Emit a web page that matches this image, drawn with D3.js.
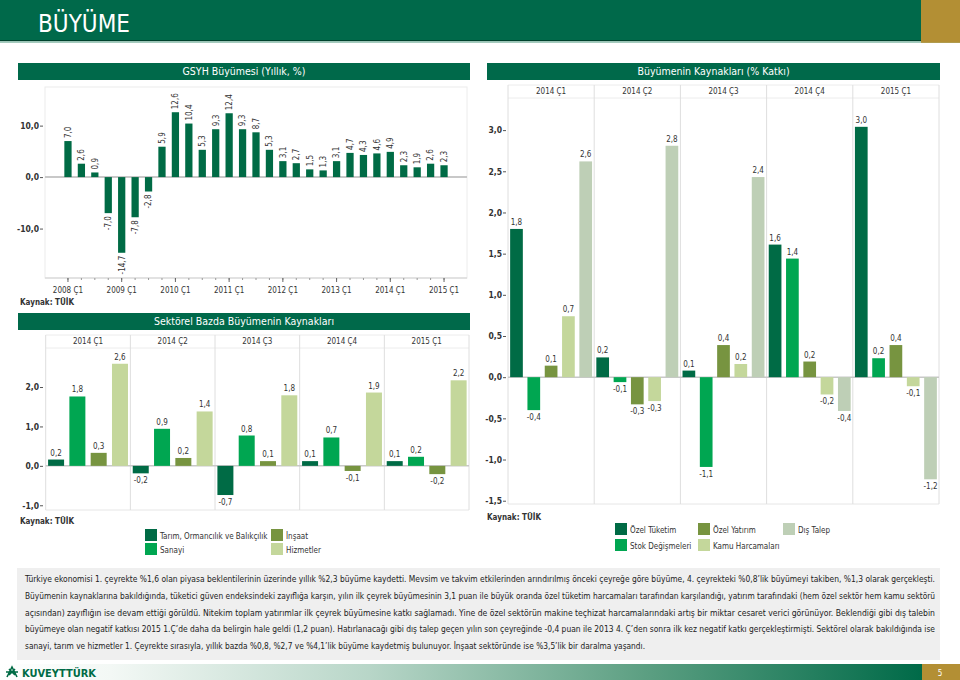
<!DOCTYPE html>
<html><head><meta charset="utf-8">
<script src="https://cdn.jsdelivr.net/npm/d3@7"></script>
<style>
body{margin:0;background:#fff;}
svg text{font-family:"DejaVu Sans Condensed","DejaVu Sans",sans-serif;}
</style></head><body>
<svg id="c" width="960" height="680"></svg>
<script>
// ---------------- DATA ----------------
const gsyhQuarters = [];
["2008","2009","2010","2011","2012","2013","2014","2015"].forEach(y=>{
  for(let q=1;q<=4;q++){ if(y==="2015" && q>1) break; gsyhQuarters.push(y+" Ç"+q); }
});
const gsyhValues = [7.0, 2.6, 0.9, -7.0, -14.7, -7.8, -2.8, 5.9, 12.6, 10.4, 5.3, 9.3, 12.4, 9.3, 8.7, 5.3, 3.1, 2.7, 1.5, 1.3, 3.1, 4.7, 4.3, 4.6, 4.9, 2.3, 1.9, 2.6, 2.3];
const gsyhTickLabels = ["2008 Ç1","2009 Ç1","2010 Ç1","2011 Ç1","2012 Ç1","2013 Ç1","2014 Ç1","2015 Ç1"];
const gsyhYTicks = [-10, 0, 10];

const periods = ["2014 Ç1","2014 Ç2","2014 Ç3","2014 Ç4","2015 Ç1"];
const sourceSeries = ["Özel Tüketim","Stok Değişmeleri","Özel Yatırım","Kamu Harcamaları","Dış Talep"];
const ozelTuketim     = [1.80, 0.24, 0.08, 1.61, 3.04];
const stokDegismeleri = [-0.40, -0.06, -1.09, 1.44, 0.23];
const ozelYatirim     = [0.14, -0.33, 0.39, 0.19, 0.39];
const kamuHarcamalari = [0.74, -0.29, 0.16, -0.21, -0.11];
const disTalep        = [2.62, 2.81, 2.43, -0.41, -1.24];
const sourceYTicks = [-1.5, -1.0, -0.5, 0, 0.5, 1.0, 1.5, 2.0, 2.5, 3.0];

const sectorSeries = ["Tarım, Ormancılık ve Balıkçılık","Sanayi","İnşaat","Hizmetler"];
const tarim     = [0.16, -0.19, -0.74, 0.12, 0.12];
const sanayi    = [1.76, 0.94, 0.77, 0.72, 0.23];
const insaat    = [0.33, 0.20, 0.12, -0.13, -0.21];
const hizmetler = [2.59, 1.38, 1.79, 1.86, 2.17];
const sectorYTicks = [-1, 0, 1, 2];

const paragraphLines = [
 "Türkiye ekonomisi 1. çeyrekte %1,6 olan piyasa beklentilerinin üzerinde yıllık %2,3 büyüme kaydetti. Mevsim ve takvim etkilerinden arındırılmış önceki çeyreğe göre büyüme, 4. çeyrekteki %0,8’lik büyümeyi takiben, %1,3 olarak gerçekleşti.",
 "Büyümenin kaynaklarına bakıldığında, tüketici güven endeksindeki zayıflığa karşın, yılın ilk çeyrek büyümesinin 3,1 puan ile büyük oranda özel tüketim harcamaları tarafından karşılandığı, yatırım tarafındaki (hem özel sektör hem kamu sektörü",
 "açısından) zayıflığın ise devam ettiği görüldü. Nitekim toplam yatırımlar ilk çeyrek büyümesine katkı sağlamadı. Yine de özel sektörün makine teçhizat harcamalarındaki artış bir miktar cesaret verici görünüyor.  Beklendiği gibi dış talebin",
 "büyümeye olan negatif katkısı 2015 1.Ç’de daha da belirgin hale geldi (1,2 puan). Hatırlanacağı gibi dış talep geçen yılın son çeyreğinde -0,4 puan ile 2013 4. Ç’den sonra ilk kez negatif katkı gerçekleştirmişti. Sektörel olarak bakıldığında ise",
 "sanayi, tarım ve hizmetler 1. Çeyrekte sırasıyla, yıllık bazda %0,8, %2,7 ve %4,1’lik büyüme kaydetmiş bulunuyor. İnşaat sektöründe ise %3,5’lik bir daralma yaşandı."
];

// ---------------- STYLE ----------------
const C = {
  dark:"#006B45", bright:"#00A651", olive:"#779440", light:"#C4D79B", gray:"#BECFB6",
  bar:"#00694A", gold:"#B38F34", text:"#333", grid:"#DEDEDE"
};
const fmt = v => (v<0?"-":"") + Math.abs(v).toFixed(1).replace(".", ",");
const svg = d3.select("#c");

// ---------------- HEADER ----------------
svg.append("rect").attr("x",0).attr("y",0).attr("width",960).attr("height",41).attr("fill",C.bar);
svg.append("rect").attr("x",0).attr("y",40).attr("width",960).attr("height",1.2).attr("fill","#00432d");
svg.append("rect").attr("x",0).attr("y",41.2).attr("width",960).attr("height",1.6).attr("fill","#8fbfae");
svg.append("rect").attr("x",921).attr("y",0).attr("width",39).attr("height",42.8).attr("fill",C.gold);
svg.append("text").attr("x",38).attr("y",32).attr("fill","#fff").attr("font-size",25)
  .attr("textLength",92).attr("lengthAdjust","spacingAndGlyphs")
  .style("font-family","'DejaVu Sans Condensed','Liberation Sans Narrow','DejaVu Sans',sans-serif").text("BÜYÜME");

function titleBar(x,y,w,h,txt){
  svg.append("rect").attr("x",x).attr("y",y).attr("width",w).attr("height",h).attr("fill",C.bar);
  svg.append("text").attr("x",x+w/2).attr("y",y+h/2).attr("dy","0.36em").attr("text-anchor","middle")
    .attr("fill","#fff").attr("font-size",10.5).text(txt);
}
function kaynak(x,y){
  svg.append("text").attr("x",x).attr("y",y).attr("font-size",8).attr("font-weight","bold").attr("fill",C.text).text("Kaynak: TÜİK");
}
function yAxis(scale, ticks, x){
  const g = svg.append("g").attr("transform",`translate(${x},0)`)
    .call(d3.axisLeft(scale).tickValues(ticks).tickSize(3).tickPadding(2).tickFormat(fmt));
  g.select(".domain").remove();
  g.selectAll(".tick line").attr("stroke","#555").attr("transform","translate(-1,0)");
  g.selectAll(".tick text").attr("font-size",8.5).attr("font-weight","bold").attr("fill",C.text)
    .style("font-family","'DejaVu Sans Condensed','DejaVu Sans',sans-serif");
}

// ---------------- CHART 1: GSYH ----------------
titleBar(18,63,452,17,"GSYH Büyümesi (Yıllık, %)");
{
  const L=45,R=467,T=87,B=278;
  const y = d3.scaleLinear().domain([-19.6,17.5]).range([B,T]);
  const x = d3.scaleBand().domain(gsyhQuarters).range([L,R]).paddingInner(0.46).paddingOuter(1.44);
  svg.append("rect").attr("x",L).attr("y",T).attr("width",R-L).attr("height",B-T).attr("fill","none").attr("stroke","#ececec");
  svg.append("line").attr("x1",L).attr("x2",R).attr("y1",y(0)).attr("y2",y(0)).attr("stroke","#c8c8c8").attr("stroke-width",2);
  svg.append("g").selectAll("rect").data(gsyhValues).join("rect")
    .attr("x",(d,i)=>x(gsyhQuarters[i])).attr("width",x.bandwidth())
    .attr("y",d=>y(Math.max(0,d))).attr("height",d=>Math.abs(y(d)-y(0))).attr("fill",C.dark);
  svg.append("g").selectAll("text").data(gsyhValues).join("text")
    .attr("transform",(d,i)=>`translate(${x(gsyhQuarters[i])+x.bandwidth()/2},${d>=0?y(d)-3:y(d)+3}) rotate(-90)`)
    .attr("text-anchor",d=>d>=0?"start":"end").attr("dy","0.35em")
    .attr("font-size",8).attr("fill",C.text).text(fmt);
  // axes
  svg.append("line").attr("x1",L).attr("x2",R).attr("y1",B).attr("y2",B).attr("stroke","#cfcfcf");
  const minor = svg.append("g").attr("transform",`translate(0,${B})`).call(d3.axisBottom(x).tickSize(2).tickFormat(""));
  minor.select(".domain").remove(); minor.selectAll(".tick line").attr("stroke","#999");
  const major = svg.append("g").attr("transform",`translate(0,${B})`).call(d3.axisBottom(x).tickValues(gsyhTickLabels).tickSize(4).tickPadding(5));
  major.select(".domain").remove(); major.selectAll(".tick line").attr("stroke","#666");
  major.selectAll(".tick text").attr("font-size",8).attr("fill",C.text);
  yAxis(y, gsyhYTicks, 44);
  kaynak(20,305);
}

// ---------------- generic grouped panel chart ----------------
function panelChart(opts){
  const {L,R,HT,T,B,dom,ticks,series,values,colors,axisX} = opts;
  const y = d3.scaleLinear().domain(dom).range([B,T]);
  const x0 = d3.scaleBand().domain(periods).range([L,R]);
  const x1 = d3.scaleBand().domain(series).range([0,x0.bandwidth()]).paddingInner(opts.pi).paddingOuter(opts.po);
  const g = svg.append("g");
  // frame + header
  g.append("line").attr("x1",L).attr("x2",R).attr("y1",HT).attr("y2",HT).attr("stroke","#ececec");
  g.append("line").attr("x1",L).attr("x2",R).attr("y1",T).attr("y2",T).attr("stroke","#ececec");
  g.append("line").attr("x1",L).attr("x2",R).attr("y1",B).attr("y2",B).attr("stroke","#e6e6e6");
  g.selectAll(".sep").data(periods.concat(["end"])).join("line")
    .attr("x1",(d,i)=>i<periods.length?x0(d):R).attr("x2",(d,i)=>i<periods.length?x0(d):R)
    .attr("y1",HT).attr("y2",B).attr("stroke",C.grid);
  g.selectAll(".hdr").data(periods).join("text")
    .attr("x",d=>x0(d)+x0.bandwidth()/2).attr("y",(HT+T)/2).attr("dy","0.35em").attr("text-anchor","middle")
    .attr("font-size",8).attr("fill",C.text).text(d=>d);
  g.append("line").attr("x1",L).attr("x2",R).attr("y1",y(0)).attr("y2",y(0)).attr("stroke","#c8c8c8").attr("stroke-width",1.5);
  const flat = [];
  periods.forEach((p,pi)=>series.forEach((s,si)=>flat.push({p,s,si,v:values[si][pi]})));
  g.selectAll(".bar").data(flat).join("rect")
    .attr("x",d=>x0(d.p)+x1(d.s)).attr("width",x1.bandwidth())
    .attr("y",d=>y(Math.max(0,d.v))).attr("height",d=>Math.abs(y(d.v)-y(0)))
    .attr("fill",d=>colors[d.si]);
  g.selectAll(".lbl").data(flat).join("text")
    .attr("x",d=>x0(d.p)+x1(d.s)+x1.bandwidth()/2)
    .attr("y",d=>d.v>=0?y(d.v)-4:y(d.v)+10)
    .attr("text-anchor","middle").attr("font-size",8).attr("fill",C.text).text(d=>fmt(d.v));
  yAxis(y, ticks, axisX);
}
function legend(items, colors, x0s, y0s){
  items.forEach((t,i)=>{
    const col = Math.floor(i/2), row = i%2;
    svg.append("rect").attr("x",x0s[col]).attr("y",y0s[row]).attr("width",12).attr("height",12).attr("fill",colors[i]);
    svg.append("text").attr("x",x0s[col]+15).attr("y",y0s[row]+9.5).attr("font-size",8).attr("fill",C.text).text(t);
  });
}

// ---------------- CHART 2: Büyümenin Kaynakları ----------------
titleBar(487,63,453,17,"Büyümenin Kaynakları (% Katkı)");
const sourceColors = [C.dark,C.bright,C.olive,C.light,C.gray];
panelChart({L:508,R:939,HT:85,T:98,B:504,dom:[-1.54,3.39],ticks:sourceYTicks,
  series:sourceSeries,values:[ozelTuketim,stokDegismeleri,ozelYatirim,kamuHarcamalari,disTalep],
  colors:sourceColors,pi:0.266,po:0.123,axisX:507});
kaynak(487,520);
legend(sourceSeries, sourceColors, [615,698,783], [523,539]);

// ---------------- CHART 3: Sektörel ----------------
titleBar(18,313,452,17,"Sektörel Bazda Büyümenin Kaynakları");
const sectorColors = [C.dark,C.bright,C.olive,C.light];
panelChart({L:45.7,R:469,HT:335,T:348,B:510,dom:[-1.12,2.99],ticks:sectorYTicks,
  series:sectorSeries,values:[tarim,sanayi,insaat,hizmetler],
  colors:sectorColors,pi:0.249,po:0.112,axisX:44});
kaynak(20,524);
legend(sectorSeries, sectorColors, [145,271], [529,543]);

// ---------------- PARAGRAPH ----------------
svg.append("rect").attr("x",17).attr("y",568).attr("width",923).attr("height",92).attr("fill","#efefef");
paragraphLines.forEach((t,i)=>{
  const tx = svg.append("text").attr("x",25).attr("y",582+i*16.8).attr("font-size",8.5).attr("fill","#222")
    .style("font-family","'DejaVu Sans Condensed','DejaVu Sans',sans-serif").text(t);
  tx.attr("textLength", i<4?910:620).attr("lengthAdjust","spacingAndGlyphs");
});

// ---------------- FOOTER ----------------
const defs = svg.append("defs");
const grad = defs.append("linearGradient").attr("id","fg").attr("x1","0").attr("x2","1");
[["0%","#ffffff"],["12%","#f3f8f5"],["40%","#b8d6c8"],["70%","#5c9f82"],["100%","#006a48"]]
  .forEach(s=>grad.append("stop").attr("offset",s[0]).attr("stop-color",s[1]));
svg.append("rect").attr("x",0).attr("y",664).attr("width",922).attr("height",16).attr("fill","url(#fg)");
svg.append("rect").attr("x",922).attr("y",664).attr("width",38).attr("height",16).attr("fill",C.gold);
svg.append("text").attr("x",940).attr("y",676).attr("text-anchor","middle").attr("font-size",8).attr("fill","#fff").text("5");
const logo = svg.append("g").attr("transform","translate(12,672)").attr("stroke",C.dark).attr("stroke-width",1.6).attr("fill","none");
logo.append("path").attr("d","M-5,5 L0,-5 L5,5 M-6,0 L6,0 M-3,-3 L3,3 M3,-3 L-3,3");
svg.append("text").attr("x",22).attr("y",677).attr("font-size",11).attr("font-weight","bold").attr("fill",C.dark)
  .attr("textLength",74).attr("lengthAdjust","spacingAndGlyphs").text("KUVEYTTÜRK");
</script>
</body></html>
